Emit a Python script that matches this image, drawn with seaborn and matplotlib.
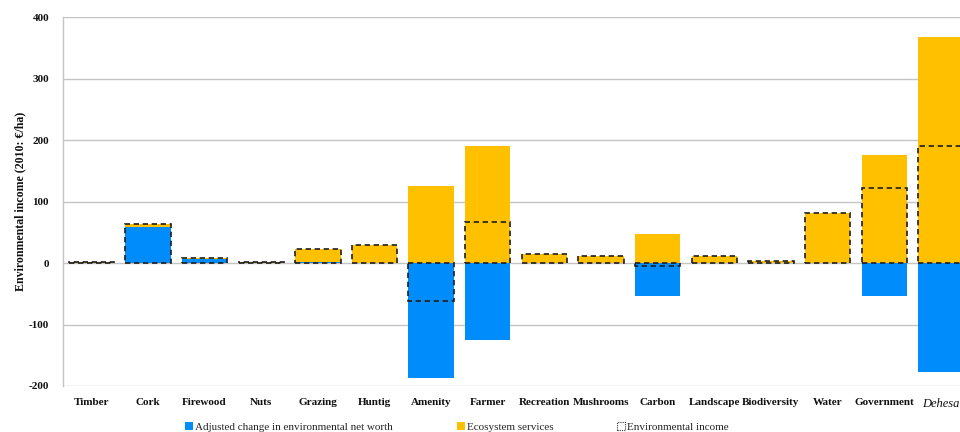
import numpy as np
import pandas as pd
import seaborn as sns
import matplotlib.pyplot as plt
from matplotlib.patches import Patch

# Income components per activity (2010: EUR/ha)
categories = ["Timber", "Cork", "Firewood", "Nuts", "Grazing", "Huntig", "Amenity",
              "Farmer", "Recreation", "Mushrooms", "Carbon", "Landscape",
              "Biodiversity", "Water", "Government", "Dehesa"]
net_worth_change = [0.5, 58, 7, 0.5, 1, 0, -187, -125, 0, 0, -53, 0, 0, 0, -54, -178]
ecosystem_services = [1.5, 6, 1, 0.5, 22, 29, 125, 191, 15, 12, 48, 12, 4, 81, 176, 368]
environmental_income = [2, 64, 8, 1, 23, 29, -62, 66, 15, 12, -5, 12, 4, 81, 122, 190]
y_ticks = [-200, -100, 0, 100, 200, 300, 400]

BLUE = "#008CFA"
GOLD = "#FFC000"
GRID = "#C4C4C4"

sns.set_theme(style="white")
plt.rcParams["font.family"] = ["Liberation Serif", "DejaVu Serif"]

df = pd.DataFrame({
    "category": categories,
    "blue": net_worth_change,
    "gold": ecosystem_services,
    "income": environmental_income,
})
# ecosystem services sit on top of any positive net-worth change
df["gold_top"] = df["gold"] + df["blue"].clip(lower=0)

fig = plt.figure(figsize=(9.6, 4.32), dpi=100)
ax = fig.add_axes([0.0656, 0.1065, 0.944, 0.854])

for y in y_ticks:
    ax.axhline(y, color=GRID, lw=1.0, zorder=0)

sns.barplot(data=df, x="category", y="gold_top", order=categories, color=GOLD,
            saturation=1, width=0.8, linewidth=0, ax=ax, zorder=2)
sns.barplot(data=df, x="category", y="blue", order=categories, color=BLUE,
            saturation=1, width=0.8, linewidth=0, ax=ax, zorder=3)
sns.barplot(data=df, x="category", y="income", order=categories, color="#1E1E1E",
            fill=False, width=0.8, linewidth=1.2, linestyle=(0, (3.2, 2.2)),
            ax=ax, zorder=4)

ax.set_xlim(-0.5, len(categories) - 0.5)
ax.set_ylim(-200, 400)
ax.set_yticks(y_ticks)
ax.set_yticklabels([str(v) for v in y_ticks])
ax.set_xlabel("")
ax.set_ylabel("Environmental income (2010: €/ha)", fontsize=8.6, fontweight="bold",
              color="#111111")
ax.yaxis.set_label_coords(-0.041, 0.5)

ax.tick_params(axis="both", length=0, colors="#111111")
ax.tick_params(axis="y", pad=10, labelsize=8)
ax.tick_params(axis="x", pad=9, labelsize=8)
for lab in ax.get_yticklabels() + ax.get_xticklabels():
    lab.set_fontweight("bold")
ax.get_xticklabels()[-1].set_fontstyle("italic")
ax.get_xticklabels()[-1].set_fontweight("normal")
ax.get_xticklabels()[-1].set_fontsize(9)

for side in ["top", "right", "bottom"]:
    ax.spines[side].set_visible(False)
ax.spines["left"].set_color(GRID)
ax.spines["left"].set_linewidth(1.0)

# legend entries laid out along the bottom edge
entries = [
    (Patch(facecolor=BLUE, edgecolor="none"), "Adjusted change in environmental net worth", 0.193),
    (Patch(facecolor=GOLD, edgecolor="none"), "Ecosystem services", 0.476),
    (Patch(facecolor="none", edgecolor="#333333", linestyle=(0, (1, 1)), linewidth=0.8),
     "Environmental income", 0.643),
]
for handle, label, xpos in entries:
    fig.legend([handle], [label], loc="center left", bbox_to_anchor=(xpos, 0.011),
               frameon=False, fontsize=8, handlelength=0.7, handleheight=0.7,
               handletextpad=0.2, borderpad=0, borderaxespad=0)

fig.savefig("out.png", dpi=100)
